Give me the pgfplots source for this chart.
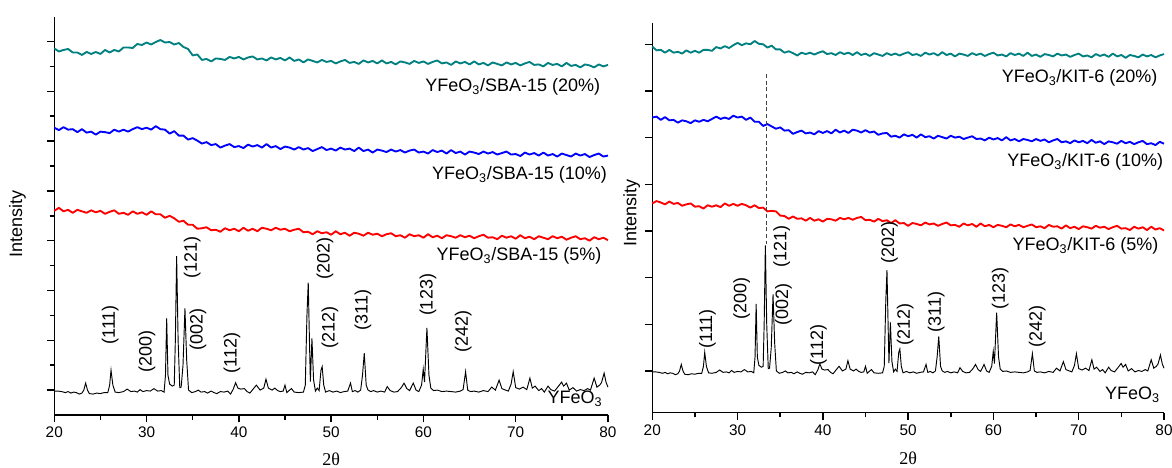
\documentclass[border=0pt]{standalone}
\usepackage{fontspec}
\setmainfont{Liberation Sans}
\newfontfamily\seriffont{Liberation Serif}
\usepackage{pgfplots}
\pgfplotsset{compat=1.18}
\usepackage{pgfplotstable}
\definecolor{cteal}{RGB}{0,128,128}
\definecolor{cblue}{RGB}{0,0,255}
\definecolor{cred}{RGB}{255,0,0}
\newcommand{\lab}{\fontsize{13.5}{15}\selectfont}

\pgfplotstableread{
x L20 L10 L5 R20 R10 R5
20 786 627 460 795 643 459
20.5 780 622 466 787 645 464
21 783 628 459 788 638 461
21.5 785 623 462 782 644 457
22 778 624 456 788 637 463
22.5 778 618 462 782 638 458
23 773 624 459 784 632 460
23.5 779 617 456 780 637 454
24 775 619 461 787 635 457
24.5 779 613 457 782 631 459
25 775 619 460 786 637 452
25.5 783 618 454 782 634 453
26 778 616 458 788 638 448
26.5 783 623 461 788 635 455
27 780 619 454 786 640 452
27.5 788 623 456 794 645 455
28 788 619 452 791 640 451
28.5 787 624 459 796 643 459
29 795 628 454 792 640 454
29.5 793 624 457 798 647 458
30 798 627 452 803 643 454
30.5 794 623 459 798 645 458
31 799 630 453 802 638 455
31.5 803 624 453 800 643 450
32 798 623 446 807 634 455
32.5 799 615 450 801 634 449
33 794 620 445 800 625 450
33.5 797 611 438 793 629 442
34 789 611 440 797 624 443
34.5 785 603 432 789 619 442
35 772 606 432 789 622 433
35.5 774 601 424 782 615 432
36 763 595 425 785 616 426
36.5 765 598 427 781 608 431
37 760 592 421 776 612 426
37.5 766 594 422 782 615 427
38 765 587 418 779 609 422
38.5 763 591 425 782 611 428
39 769 594 421 778 607 422
39.5 766 588 424 782 614 425
40 769 590 419 785 610 420
40.5 764 586 426 779 614 426
41 768 593 420 781 609 425
41.5 770 589 424 777 617 422
42 764 592 419 783 611 428
42.5 766 587 426 779 615 425
43 762 594 424 782 610 428
43.5 768 587 421 777 617 424
44 764 590 426 783 615 428
44.5 767 584 422 777 611 430
45 762 589 424 780 616 423
45.5 768 587 419 775 611 424
46 761 583 422 781 613 420
46.5 764 588 424 778 606 426
47 758 583 417 775 609 421
47.5 764 586 418 781 610 423
48 761 580 413 777 602 417
48.5 758 584 419 780 604 423
49 763 588 415 776 600 416
49.5 759 582 417 780 607 417
50 761 585 412 783 603 411
50.5 756 581 419 777 606 417
51 760 587 413 779 600 415
51.5 763 583 416 775 607 412
52 757 585 410 782 601 418
52.5 759 580 416 778 603 414
53 755 587 414 781 598 416
53.5 762 580 410 776 604 411
54 758 583 416 783 601 415
54.5 761 577 412 777 598 418
55 756 583 414 780 604 412
55.5 762 581 409 774 600 413
56 756 578 413 780 602 409
56.5 759 583 415 778 597 416
57 754 579 409 775 600 412
57.5 760 582 411 781 603 415
58 758 577 406 777 597 409
58.5 755 581 413 780 598 416
59 761 583 409 775 594 410
59.5 757 577 411 779 600 413
60 760 579 406 782 596 408
60.5 755 575 413 776 599 413
61 759 582 407 778 594 411
61.5 762 578 410 774 601 408
62 756 581 405 781 594 414
62.5 758 575 411 777 597 410
63 753 582 409 780 592 413
63.5 760 576 406 775 597 408
64 756 579 411 782 595 411
64.5 759 573 407 775 592 414
65 754 579 410 778 597 408
65.5 760 577 405 773 593 410
66 754 574 409 779 596 406
66.5 757 579 412 777 590 413
67 752 575 406 774 594 409
67.5 758 578 407 780 597 410
68 755 573 403 776 590 405
68.5 752 576 410 778 592 412
69 758 579 406 773 588 406
69.5 754 573 409 777 594 409
70 757 574 404 780 590 404
70.5 752 570 411 774 593 410
71 756 577 405 776 588 408
71.5 759 573 408 772 595 405
72 753 576 403 779 589 411
72.5 754 571 409 775 592 407
73 750 577 406 778 586 409
73.5 757 571 403 773 592 404
74 753 574 409 780 590 408
74.5 755 569 405 774 587 411
75 750 575 408 777 593 405
75.5 757 572 402 771 588 406
76 751 569 406 777 591 402
76.5 753 575 409 775 586 409
77 748 571 403 772 590 405
77.5 754 574 405 778 593 408
78 752 568 400 774 586 402
78.5 748 572 407 777 588 409
79 754 575 403 772 584 403
79.5 750 569 406 776 591 406
80 753 571 401 779 587 401
}\coloredData

\pgfplotstableread{
x y
20.0 98
20.4 98
20.8 97
21.2 95
21.5 97
21.8 94
22.1 96
22.4 95
22.7 92
23.0 94
23.2 100
23.4 114
23.6 100
23.8 93
24.2 92
24.6 94
25.0 93
25.4 95
25.8 95
26.0 110
26.15 140
26.35 110
26.6 96
27.0 95
27.5 97
27.9 102
28.3 97
28.7 98
29.0 96
29.3 101
29.6 97
30.0 99
30.4 98
30.8 103
31.2 98
31.6 99
31.9 96
32.05 130
32.18 244
32.32 130
32.5 112
32.8 108
33.0 110
33.12 200
33.26 369
33.42 200
33.6 105
33.75 106
33.95 150
34.16 264
34.35 160
34.55 100
34.9 95
35.3 97
35.6 100
35.9 96
36.3 97
36.6 94
37.0 98
37.3 95
37.6 93
38.0 97
38.4 96
38.8 98
39.1 92
39.4 102
39.65 115
39.9 104
40.2 102
40.6 103
40.9 97
41.2 94
41.5 101
41.9 110
42.3 100
42.7 104
42.94 122
43.2 104
43.6 100
43.9 104
44.2 99
44.5 97
44.8 98
45.0 110
45.2 95
45.5 100
45.7 103
46.0 96
46.5 95
47.0 96
47.2 110
47.38 250
47.52 316
47.65 200
47.75 117
47.92 204
48.1 120
48.3 98
48.5 104
48.7 99
48.9 140
49.03 147
49.2 110
49.4 96
49.8 99
50.2 96
50.6 98
51.0 95
51.4 97
51.8 98
52.1 114
52.3 97
52.6 99
52.9 96
53.2 100
53.4 130
53.59 174
53.8 110
54.0 100
54.3 97
54.6 99
55.0 96
55.4 98
55.8 96
56.08 107
56.4 99
56.8 96
57.2 97
57.6 105
57.9 114
58.2 103
58.5 99
58.9 114
59.2 100
59.5 97
59.8 110
59.98 142
60.12 116
60.38 225
60.6 130
60.8 104
61.1 99
61.5 100
62.0 97
62.5 98
63.0 97
63.5 96
64.0 98
64.3 101
64.57 137
64.8 100
65.1 97
65.5 98
66.0 96
66.5 99
67.0 97
67.4 106
67.8 100
68.2 120
68.5 103
68.9 100
69.2 98
69.5 112
69.73 137
70.0 105
70.4 102
70.8 106
71.2 101
71.54 124
71.8 104
72.1 108
72.5 99
72.8 103
73.1 96
73.5 108
73.8 101
74.2 98
74.6 107
74.97 116
75.2 108
75.5 114
75.8 100
76.2 105
76.6 98
77.0 101
77.4 99
77.8 103
78.1 100
78.5 124
78.8 106
79.1 110
79.3 115
79.58 134
79.8 115
80.0 106
}\yfeoData

\pgfplotsset{xrdaxis/.style={
  scale only axis,
  axis lines*=left,
  axis line style={line width=1.1pt},
  tick align=outside,
  tick style={line width=1.1pt, black},
  major tick length=5.5pt,
  minor tick length=3.5pt,
  xmin=20, xmax=80,
  xtick={20,30,...,80},
  minor x tick num=1,
  ytick={100,200,...,800},
  yticklabels={},
  ticklabel style={font=\fontsize{11.5}{13}\selectfont},
  /pgf/number format/assume math mode=true,
  clip=false,
  noisy/.style={line width=1.4pt, line join=round},
}}

\begin{document}
\begin{tikzpicture}
\path[use as bounding box] (0,0) rectangle (879pt,351pt);

% ---------- left panel ----------
\begin{axis}[xrdaxis,
  at={(40.7pt,39.75pt)}, anchor=south west,
  width=415.3pt, height=298.8pt,
  ymin=50, ymax=850,
  minor y tick num=1]
\addplot[cteal, noisy] table[x=x,y=L20] {\coloredData};
\addplot[cblue, noisy] table[x=x,y=L10] {\coloredData};
\addplot[cred, noisy] table[x=x,y=L5] {\coloredData};
\addplot[black, line width=0.7pt] table[x=x,y=y] {\yfeoData};

\node[font=\lab, anchor=base east] at (axis cs:79.66,699) {YFeO\textsubscript{3}/SBA-15 (20\%)};
\node[font=\lab, anchor=base east] at (axis cs:80.4,522) {YFeO\textsubscript{3}/SBA-15 (10\%)};
\node[font=\lab, anchor=base east] at (axis cs:79.8,360) {YFeO\textsubscript{3}/SBA-15 (5\%)};
\node[font=\lab, anchor=base east] at (axis cs:79.9,73) {YFeO\textsubscript{3}};

\node[font=\lab, rotate=90] at (axis cs:26.05,231) {(111)};
\node[font=\lab, rotate=90] at (axis cs:30.05,177) {(200)};
\node[font=\lab, rotate=90] at (axis cs:34.94,367) {(121)};
\node[font=\lab, rotate=90] at (axis cs:35.57,221) {(002)};
\node[font=\lab, rotate=90] at (axis cs:39.25,175) {(112)};
\node[font=\lab, rotate=90] at (axis cs:49.33,365) {(202)};
\node[font=\lab, rotate=90] at (axis cs:49.87,225) {(212)};
\node[font=\lab, rotate=90] at (axis cs:53.45,261) {(311)};
\node[font=\lab, rotate=90] at (axis cs:60.5,291) {(123)};
\node[font=\lab, rotate=90] at (axis cs:64.3,217) {(242)};

\node[font=\lab, rotate=90, inner sep=0pt] at (rel axis cs:0,0.479) [yshift=27.6pt] {Intensity};
\node[font=\seriffont\lab, inner sep=0pt] at (rel axis cs:0.5,0) [yshift=-33pt] {2θ};
\end{axis}

% ---------- right panel ----------
\begin{axis}[xrdaxis,
  at={(489.2pt,41.5pt)}, anchor=south west,
  width=383.8pt, height=292.5pt,
  ymin=10.65, ymax=846.3]
\addplot[cteal, noisy] table[x=x,y=R20] {\coloredData};
\addplot[cblue, noisy] table[x=x,y=R10] {\coloredData};
\addplot[cred, noisy] table[x=x,y=R5] {\coloredData};
\addplot[black, line width=0.7pt] table[x=x,y=y] {\yfeoData};
\addplot[black!75, line width=0.75pt, dash pattern=on 3pt off 2pt] coordinates {(33.38,736) (33.38,372)};

\node[font=\lab, anchor=base east] at (axis cs:79.79,718) {YFeO\textsubscript{3}/KIT-6 (20\%)};
\node[font=\lab, anchor=base east] at (axis cs:80.45,538) {YFeO\textsubscript{3}/KIT-6 (10\%)};
\node[font=\lab, anchor=base east] at (axis cs:79.9,358) {YFeO\textsubscript{3}/KIT-6 (5\%)};
\node[font=\lab, anchor=base east] at (axis cs:80.06,38) {YFeO\textsubscript{3}};

\node[font=\lab, rotate=90] at (axis cs:26.46,190) {(111)};
\node[font=\lab, rotate=90] at (axis cs:30.49,256) {(200)};
\node[font=\lab, rotate=90] at (axis cs:35.19,367) {(121)};
\node[font=\lab, rotate=90] at (axis cs:35.38,242) {(002)};
\node[font=\lab, rotate=90] at (axis cs:39.49,155) {(112)};
\node[font=\lab, rotate=90] at (axis cs:47.82,376) {(202)};
\node[font=\lab, rotate=90] at (axis cs:49.66,199) {(212)};
\node[font=\lab, rotate=90] at (axis cs:53.3,227) {(311)};
\node[font=\lab, rotate=90] at (axis cs:60.81,276) {(123)};
\node[font=\lab, rotate=90] at (axis cs:65.12,195) {(242)};

\node[font=\lab, rotate=90, inner sep=0pt] at (rel axis cs:0,0.513) [yshift=15.5pt] {Intensity};
\node[font=\seriffont\lab, inner sep=0pt] at (rel axis cs:0.5,0) [yshift=-34pt] {2θ};
\end{axis}
\end{tikzpicture}
\end{document}
